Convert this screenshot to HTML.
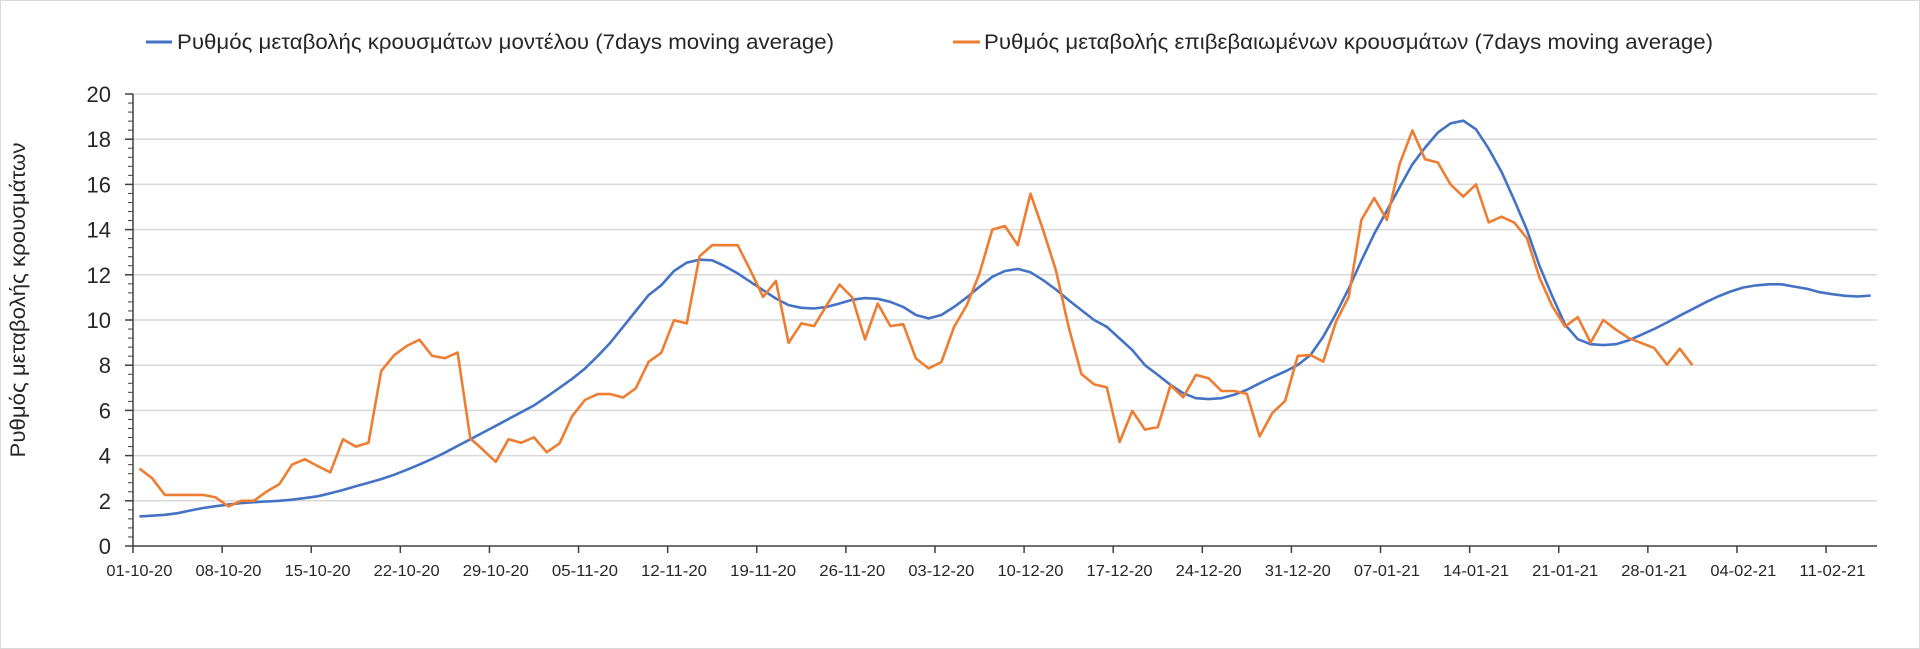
<!DOCTYPE html>
<html><head><meta charset="utf-8"><style>
html,body{margin:0;padding:0;background:#fff;}
svg{display:block;font-family:"Liberation Sans",sans-serif;}
</style></head><body>
<svg id="chart" width="1920" height="649" viewBox="0 0 1920 649" xmlns="http://www.w3.org/2000/svg">
<rect x="0.5" y="0.5" width="1919" height="648" fill="#fff" stroke="#d9d9d9" stroke-width="1"/>
<g>
 <g>
  <line x1="146" y1="42" x2="172" y2="42" stroke="#4472C4" stroke-width="3"/>
  <text x="177" y="49" font-size="21" fill="#262626" textLength="657" lengthAdjust="spacingAndGlyphs">Ρυθμός μεταβολής κρουσμάτων μοντέλου (7days moving average)</text>
 </g>
 <g>
  <line x1="953" y1="42" x2="980" y2="42" stroke="#ED7D31" stroke-width="3"/>
  <text x="984" y="49" font-size="21" fill="#262626" textLength="729" lengthAdjust="spacingAndGlyphs">Ρυθμός μεταβολής επιβεβαιωμένων κρουσμάτων (7days moving average)</text>
 </g>
</g>
<text transform="translate(25,300) rotate(-90)" text-anchor="middle" font-size="21" fill="#262626" textLength="315" lengthAdjust="spacingAndGlyphs">Ρυθμός μεταβολής κρουσμάτων</text>
<g id="grid"></g><g id="yaxis"></g><g id="xaxis"></g><g id="series"></g>
</svg>
<script>
const yTicks = [0,2,4,6,8,10,12,14,16,18,20];
const xLabels = ["01-10-20","08-10-20","15-10-20","22-10-20","29-10-20","05-11-20","12-11-20","19-11-20","26-11-20","03-12-20","10-12-20","17-12-20","24-12-20","31-12-20","07-01-21","14-01-21","21-01-21","28-01-21","04-02-21","11-02-21"];
const modelSeries = [1.31,1.34,1.38,1.45,1.57,1.68,1.76,1.83,1.9,1.94,1.97,2.0,2.05,2.12,2.2,2.33,2.48,2.64,2.8,2.96,3.15,3.37,3.6,3.86,4.13,4.43,4.72,5.02,5.32,5.62,5.92,6.22,6.6,7.0,7.4,7.85,8.4,9.0,9.7,10.4,11.1,11.54,12.17,12.54,12.67,12.64,12.38,12.06,11.69,11.32,10.95,10.66,10.54,10.51,10.58,10.73,10.9,10.97,10.94,10.8,10.58,10.22,10.07,10.22,10.58,11.0,11.47,11.91,12.17,12.26,12.11,11.76,11.35,10.88,10.44,10.0,9.7,9.18,8.67,8.0,7.57,7.13,6.76,6.54,6.5,6.54,6.69,6.91,7.2,7.47,7.72,8.01,8.45,9.26,10.28,11.39,12.63,13.81,14.84,15.87,16.89,17.63,18.29,18.7,18.82,18.44,17.58,16.56,15.31,13.99,12.37,11.04,9.79,9.15,8.93,8.89,8.93,9.1,9.35,9.6,9.89,10.19,10.48,10.77,11.04,11.26,11.44,11.53,11.58,11.58,11.48,11.38,11.23,11.14,11.07,11.04,11.08];
const confirmedSeries = [3.43,3.0,2.26,2.26,2.26,2.26,2.15,1.75,2.0,2.0,2.41,2.74,3.6,3.84,3.54,3.26,4.72,4.4,4.57,7.74,8.44,8.85,9.13,8.41,8.31,8.56,4.76,4.25,3.72,4.72,4.57,4.81,4.15,4.54,5.75,6.46,6.72,6.72,6.57,6.98,8.15,8.55,9.99,9.85,12.82,13.31,13.31,13.31,12.2,11.02,11.73,8.99,9.85,9.73,10.66,11.57,11.0,9.14,10.73,9.73,9.82,8.3,7.86,8.14,9.7,10.66,12.06,14.0,14.16,13.31,15.59,13.97,12.2,9.7,7.61,7.15,7.02,4.6,5.98,5.15,5.26,7.11,6.58,7.57,7.42,6.86,6.86,6.73,4.85,5.88,6.42,8.41,8.45,8.16,9.92,11.02,14.43,15.4,14.43,16.9,18.39,17.11,16.97,16.0,15.46,16.0,14.32,14.57,14.31,13.62,11.85,10.6,9.71,10.13,9.0,10.0,9.57,9.2,8.98,8.76,8.02,8.73,8.0];

const NS = "http://www.w3.org/2000/svg";
const X0 = 133, X1 = 1877, NCAT = 137, Y0 = 546, YTOP = 94, YMAX = 20;
const catW = (X1 - X0) / NCAT;
function xScale(i){ return X0 + catW * (i + 0.5); }
function yScale(v){ return Y0 - (Y0 - YTOP) * v / YMAX; }
function mk(tag, attrs, parent){ const e = document.createElementNS(NS, tag); for (const k in attrs) e.setAttribute(k, attrs[k]); parent.appendChild(e); return e; }

const grid = document.getElementById('grid');
const yaxis = document.getElementById('yaxis');
const xaxis = document.getElementById('xaxis');
const series = document.getElementById('series');

yTicks.forEach(t => {
  const y = yScale(t);
  if (t > 0) {
    const g = mk('line', {x1:X0, x2:X1, y1:y, y2:y, stroke:'#d9d9d9', 'stroke-width':1.5}, grid);
    
    
  }
  const tk = mk('line', {x1:X0-8, x2:X0, y1:y, y2:y, stroke:'#404040', 'stroke-width':1.5}, yaxis);
  
  
  const lb = mk('text', {x:111, y:y+8, 'text-anchor':'end', 'font-size':22, fill:'#262626'}, yaxis);
  lb.textContent = String(t);
  
  
});
for (let k = 0; k < 50; k++) {
  if (k % 5 === 0) continue;
  const y = yScale(k * 0.4);
  const m = mk('line', {x1:X0-5, x2:X0, y1:y, y2:y, stroke:'#404040', 'stroke-width':1}, yaxis);
  
  
}
const ya = mk('line', {x1:X0, x2:X0, y1:YTOP, y2:Y0, stroke:'#404040', 'stroke-width':1.5}, yaxis);


const xa = mk('line', {x1:X0, x2:X1, y1:Y0, y2:Y0, stroke:'#404040', 'stroke-width':1.5}, xaxis);


xLabels.forEach((lab, j) => {
  const i = j * 7;
  const tx = X0 + catW * i;
  const tk = mk('line', {x1:tx, x2:tx, y1:Y0, y2:Y0+7, stroke:'#404040', 'stroke-width':1.5}, xaxis);
  
  
  const t = mk('text', {x:xScale(i), y:Y0+30, 'text-anchor':'middle', 'font-size':16, fill:'#262626', textLength:66, lengthAdjust:'spacingAndGlyphs'}, xaxis);
  t.textContent = lab;
  
  
});
function drawLine(vals, color, name){
  const d = vals.map((v,i) => (i ? 'L' : 'M') + xScale(i).toFixed(1) + ',' + yScale(v).toFixed(1)).join(' ');
  const p = mk('path', {d:d, fill:'none', stroke:color, 'stroke-width':2.6, 'stroke-linejoin':'round'}, series);
  
  
}
drawLine(modelSeries, '#4472C4', 'model-series-line');
drawLine(confirmedSeries, '#ED7D31', 'confirmed-series-line');
</script>
</body></html>
